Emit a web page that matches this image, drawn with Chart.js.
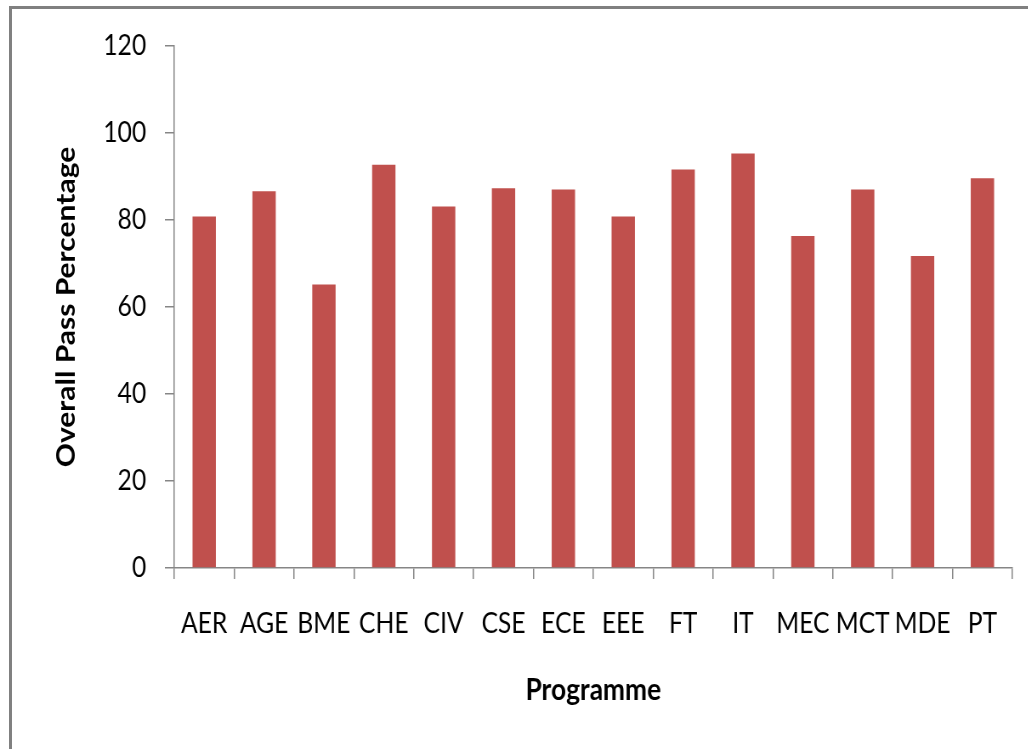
<!DOCTYPE html>
<html>
<head>
<meta charset="utf-8">
<script src="https://cdn.jsdelivr.net/npm/chart.js@4/dist/chart.umd.min.js"></script>
<style>
  html, body { margin: 0; padding: 0; background: #fff; overflow: hidden; }
  body { width: 1028px; height: 749px; position: relative; }
  .frame { position: absolute; left: 9px; top: 6px; width: 1100px; height: 800px;
           border-left: 3px solid #808080; border-top: 3px solid #808080; }
  #chart { position: absolute; left: 0; top: 0; width: 1210px; height: 749px;
           transform: scaleX(0.85); transform-origin: 0 0; }
</style>
</head>
<body>
<div class="frame"></div>
<canvas id="chart" width="1210" height="749"></canvas>
<script>
  // programme codes and their overall pass percentage
  const programmes = ['AER', 'AGE', 'BME', 'CHE', 'CIV', 'CSE', 'ECE', 'EEE', 'FT', 'IT', 'MEC', 'MCT', 'MDE', 'PT'];
  const passPct = [80.8, 86.6, 65.2, 92.7, 83.1, 87.3, 87.0, 80.8, 91.6, 95.3, 76.3, 87.0, 71.7, 89.6];
  const yTicks = [0, 20, 40, 60, 80, 100, 120];

  const axisColor = '#868686';
  const fontFamily = 'Lato, "Open Sans", sans-serif';

  new Chart(document.getElementById('chart').getContext('2d'), {
    type: 'bar',
    data: {
      labels: programmes,
      datasets: [{ label: 'Overall Pass Percentage', data: passPct, backgroundColor: '#C0504D', borderWidth: 0,
                   barPercentage: 0.39, categoryPercentage: 1 }]
    },
    options: {
      responsive: false,
      animation: false,
      layout: { padding: { left: 20, top: 46, right: 19, bottom: 30 } },
      plugins: { legend: { display: false }, tooltip: { enabled: false } },
      scales: {
        x: {
          grid: { display: true, drawOnChartArea: false, offset: true, tickLength: 11, color: axisColor, lineWidth: 1.5 },
          border: { color: axisColor, width: 1.5 },
          ticks: { color: '#000', padding: 27, font: { family: fontFamily, size: 29 }, maxRotation: 0, autoSkip: false },
          title: { display: true, text: 'Programme', color: '#000', padding: { top: 4, bottom: 10 },
                   font: { family: fontFamily, size: 31, weight: 'bold' } }
        },
        y: {
          min: yTicks[0], max: yTicks[yTicks.length - 1],
          afterBuildTicks: (s) => { s.ticks = yTicks.map(v => ({ value: v })); },
          afterFit: (s) => { s.width = 185; },
          grid: { display: true, drawOnChartArea: false, tickLength: 11, color: axisColor, lineWidth: 1.5 },
          border: { color: axisColor, width: 1.5 },
          ticks: { color: '#000', padding: 22, font: { family: fontFamily, size: 29 } },
          title: { display: true, text: 'Overall Pass Percentage', color: '#000', padding: { top: 40, bottom: 0 },
                   font: { family: fontFamily, size: 30, weight: 'bold' } }
        }
      }
    }
  });
</script>
</body>
</html>
